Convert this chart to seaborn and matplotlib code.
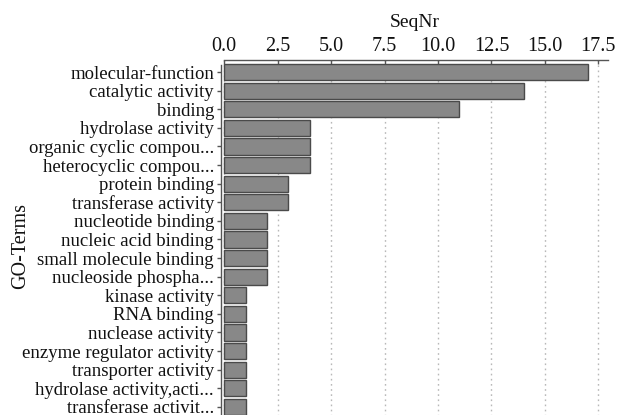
import matplotlib
matplotlib.use("Agg")
import matplotlib.pyplot as plt
import seaborn as sns
import pandas as pd

terms = [
    "molecular-function",
    "catalytic activity",
    "binding",
    "hydrolase activity",
    "organic cyclic compou...",
    "heterocyclic compou...",
    "protein binding",
    "transferase activity",
    "nucleotide binding",
    "nucleic acid binding",
    "small molecule binding",
    "nucleoside phospha...",
    "kinase activity",
    "RNA binding",
    "nuclease activity",
    "enzyme regulator activity",
    "transporter activity",
    "hydrolase activity,acti...",
    "transferase activit...",
]
seq_nr = [17, 14, 11, 4, 4, 4, 3, 3, 2, 2, 2, 2, 1, 1, 1, 1, 1, 1, 1]
x_ticks = [0.0, 2.5, 5.0, 7.5, 10.0, 12.5, 15.0, 17.5]

df = pd.DataFrame({"GO-Terms": terms, "SeqNr": seq_nr})

sns.set_theme(style="white")
plt.rcParams["font.family"] = ["Liberation Serif", "DejaVu Serif"]

fig = plt.figure(figsize=(6.22, 4.15), dpi=100)
ax = fig.add_axes([0.3553, -0.0096, 0.6222, 0.865])

sns.barplot(data=df, x="SeqNr", y="GO-Terms", orient="h", color="#888888",
            edgecolor="#4a4a4a", linewidth=1.0, width=0.88, saturation=1,
            zorder=3, ax=ax)

ax.set_xlim(-0.15, 17.95)
ax.set_ylim(18.65, -0.65)
ax.xaxis.tick_top()
ax.xaxis.set_label_position("top")
ax.set_xticks(x_ticks)
ax.set_xticklabels([f"{t:.1f}" for t in x_ticks])

ax.grid(axis="x", linestyle=(0, (1.2, 2.5)), color="#b8b8b8", linewidth=1.0, zorder=0)
ax.grid(axis="y", visible=False)

for side in ("right", "bottom"):
    ax.spines[side].set_visible(False)
for side in ("top", "left"):
    ax.spines[side].set_color("#555555")
    ax.spines[side].set_linewidth(1.0)
ax.spines["top"].set_bounds(0, 17.95)
ax.spines["left"].set_bounds(18.65, -0.4)

ax.tick_params(axis="x", which="major", direction="in", length=3, width=1,
               color="#555555", labelsize=14.5, pad=3, top=True, bottom=False,
               labeltop=True, labelbottom=False, labelcolor="#111111")
ax.tick_params(axis="y", which="major", direction="out", length=3, width=1,
               color="#555555", labelsize=13.5, pad=2, left=True,
               labelcolor="#111111")

ax.set_xlabel("SeqNr", fontsize=14, labelpad=7, color="#111111")
ax.set_ylabel("GO-Terms", fontsize=14.5, color="#111111")
ax.yaxis.set_label_coords(-0.494, 0.482)

fig.savefig("out.png", dpi=100)
